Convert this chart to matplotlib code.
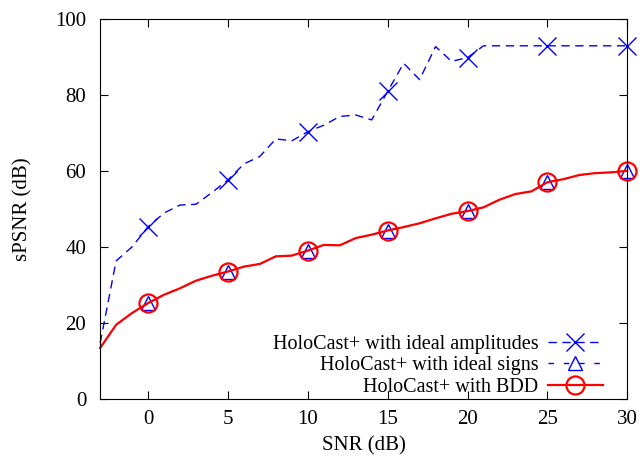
import numpy as np
import matplotlib.pyplot as plt

plt.rcParams['font.family'] = ['Liberation Serif', 'DejaVu Serif']
plt.rcParams['font.size'] = 15

snr = list(range(-3, 31))
amp = [14.7, 36.3, 40.0, 45.3, 48.9, 51.0, 51.2, 54.3, 57.6, 61.8, 63.8, 68.4, 67.9, 70.3,
       72.0, 74.3, 74.7, 73.4, 80.9, 88.3, 84.0, 92.7, 88.8, 89.8, 92.9, 92.9, 92.9, 92.9,
       92.9, 92.9, 92.9, 92.9, 92.9, 92.9]
signs = [13.4, 19.5, 22.6, 25.2, 27.4, 29.1, 31.1, 32.4, 33.5, 34.8, 35.5, 37.5, 37.7, 39.0,
         40.5, 40.4, 42.3, 43.2, 44.3, 45.2, 46.2, 47.5, 48.7, 49.4, 50.4, 52.4, 53.9, 54.6,
         57.0, 57.8, 58.9, 59.4, 59.6, 60.0]
bdd = [13.4, 19.5, 22.6, 25.2, 27.4, 29.1, 31.1, 32.4, 33.5, 34.8, 35.5, 37.5, 37.7, 39.0,
       40.5, 40.4, 42.3, 43.2, 44.3, 45.2, 46.2, 47.5, 48.7, 49.4, 50.4, 52.4, 53.9, 54.6,
       57.0, 57.8, 58.9, 59.4, 59.6, 60.0]
labels = ['HoloCast+ with ideal amplitudes', 'HoloCast+ with ideal signs', 'HoloCast+ with BDD']

marks = [snr.index(v) for v in range(0, 31, 5)]

fig = plt.figure(figsize=(6.42, 4.59), dpi=100)
ax = fig.add_axes([0.156, 0.131, 0.821, 0.828])

ax.plot(snr, amp, color='#0000ff', lw=1, dashes=(6, 4), marker='x', ms=13, mew=1,
        markevery=marks, clip_on=False, label=labels[0])
ax.plot(snr, signs, color='#0000ff', lw=1, dashes=(4, 7), marker='^', ms=10, mew=1,
        mfc='none', markevery=marks, clip_on=False, label=labels[1])
ax.plot(snr, bdd, color='#ff0000', lw=1.6, marker='o', ms=13, mew=1.6, mfc='none',
        markevery=marks, clip_on=False, label=labels[2])

ax.set_xlim(-3, 30)
ax.set_ylim(0, 100)
ax.set_xticks(range(0, 31, 5))
ax.set_yticks(range(0, 101, 20))
ax.tick_params(axis='y', direction='in', right=True, length=6, pad=10)
ax.tick_params(axis='x', direction='in', top=True, length=6, pad=8)
ax.set_xlabel('SNR (dB)', labelpad=5)
ax.set_ylabel('sPSNR (dB)', labelpad=16)

ax.legend(loc='lower right', bbox_to_anchor=(0.954, 0.005), frameon=False,
          markerfirst=False, handlelength=2.75, handletextpad=0.45, labelspacing=0.12,
          borderaxespad=0, borderpad=0, fontsize=14.5)

fig.savefig('out.png', dpi=100)
